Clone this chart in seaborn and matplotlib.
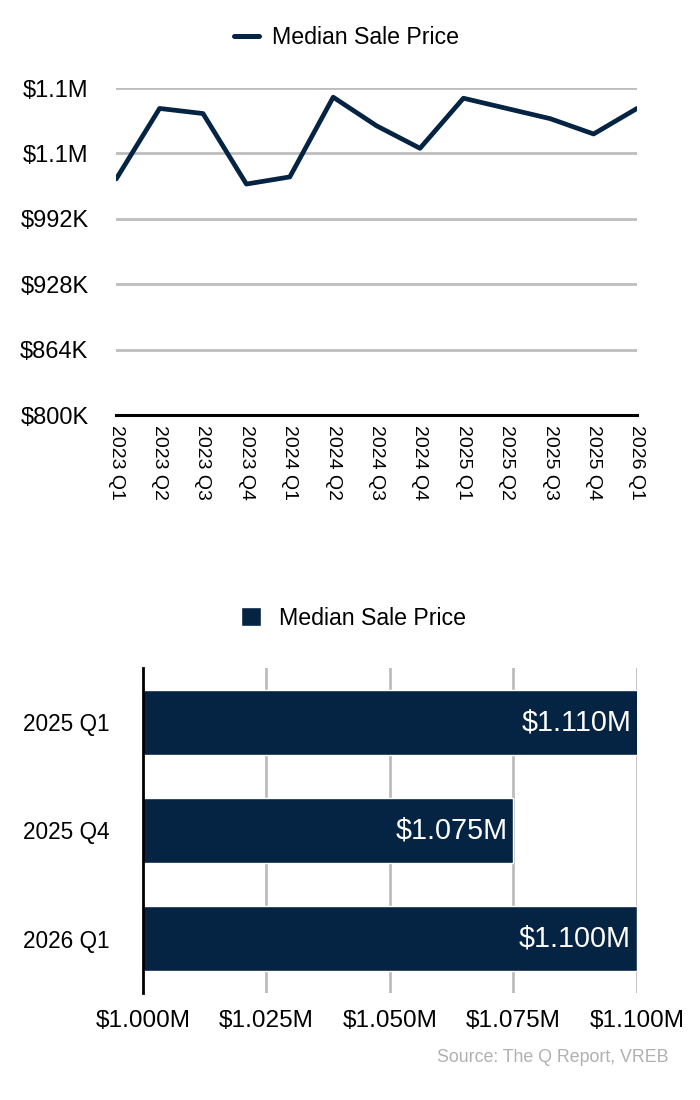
import matplotlib
matplotlib.use("Agg")
import matplotlib.pyplot as plt
import matplotlib.ticker as mticker
from matplotlib.lines import Line2D
from matplotlib.patches import Patch
import pandas as pd
import seaborn as sns

# 분기별 중간 판매가 (천 달러)
quarters = ["2023 Q1", "2023 Q2", "2023 Q3", "2023 Q4",
            "2024 Q1", "2024 Q2", "2024 Q3", "2024 Q4",
            "2025 Q1", "2025 Q2", "2025 Q3", "2025 Q4", "2026 Q1"]
median_price_k = [1031, 1100, 1095, 1026, 1033, 1111, 1083, 1061,
                  1110, 1100, 1090, 1075, 1100]
y_ticks_k = [800, 864, 928, 992, 1056, 1120]

# 비교 막대 (백만 달러)
compare_quarters = ["2025 Q1", "2025 Q4", "2026 Q1"]
compare_price_m = [1.110, 1.075, 1.100]
x_ticks_m = [1.000, 1.025, 1.050, 1.075, 1.100]

navy = "#052342"
grid_gray = "#bdbdbd"

sns.set_style("white")
plt.rcParams["font.family"] = ["Liberation Sans", "DejaVu Sans"]
plt.rcParams["text.color"] = "black"
plt.rcParams["xtick.color"] = "black"
plt.rcParams["ytick.color"] = "black"
plt.rcParams["axes.labelcolor"] = "black"

fig = plt.figure(figsize=(7, 11), dpi=100)

# ---- 선 그래프 ----
ax1 = fig.add_axes([0.166, 0.6227, 0.744, 0.2973])
df_line = pd.DataFrame({"quarter": quarters, "price": median_price_k})
sns.lineplot(data=df_line, x="quarter", y="price", ax=ax1,
             color=navy, linewidth=3.4, sort=False)
ax1.set_xlim(0, len(quarters) - 1)
ax1.set_ylim(y_ticks_k[0], y_ticks_k[-1])
ax1.set_yticks(y_ticks_k)


def fmt_k(v, pos):
    if v >= 1000:
        return "${:.1f}M".format(v / 1000)
    return "${:.0f}K".format(v)


ax1.yaxis.set_major_formatter(mticker.FuncFormatter(fmt_k))
for t in y_ticks_k[1:]:
    ax1.axhline(t, color=grid_gray, linewidth=2, zorder=0)
for s in ["top", "right", "left"]:
    ax1.spines[s].set_visible(False)
ax1.spines["bottom"].set_color("black")
ax1.spines["bottom"].set_linewidth(2.2)
ax1.tick_params(axis="x", labelsize=14, rotation=-90, length=0, pad=7)
ax1.tick_params(axis="y", labelsize=17, length=0, pad=20)
ax1.set_xlabel("")
ax1.set_ylabel("")
fig.legend(handles=[Line2D([0], [0], color=navy, linewidth=3.6)],
           labels=["Median Sale Price"], loc="center",
           bbox_to_anchor=(0.495, 0.9655), frameon=False,
           fontsize=16.7, handlelength=1.08, handletextpad=0.52)

# ---- 막대 그래프 ----
ax2 = fig.add_axes([0.204, 0.0973, 0.706, 0.2955])
df_bar = pd.DataFrame({"quarter": compare_quarters, "price": compare_price_m})
sns.barplot(data=df_bar, x="price", y="quarter", orient="h", ax=ax2,
            color=navy, width=0.6, saturation=1, zorder=2)
ax2.set_xlim(x_ticks_m[0], x_ticks_m[-1])
ax2.set_xticks(x_ticks_m)
ax2.xaxis.set_major_formatter(mticker.FuncFormatter(lambda v, p: "${:.3f}M".format(v)))
for t in x_ticks_m[1:]:
    ax2.axvline(t, color=grid_gray, linewidth=2, zorder=0)
for s in ["top", "right", "bottom"]:
    ax2.spines[s].set_visible(False)
ax2.spines["left"].set_color("black")
ax2.spines["left"].set_linewidth(2)
ax2.tick_params(axis="x", labelsize=17.6, length=0, pad=12)
ax2.tick_params(axis="y", labelsize=16.3, length=0, pad=24)
ax2.set_xlabel("")
ax2.set_ylabel("")
for i, v in enumerate(compare_price_m):
    ax2.text(min(v, x_ticks_m[-1]) - 0.0012, i, "${:.3f}M".format(v),
             ha="right", va="center", color="white", fontsize=20.7, zorder=3)
fig.legend(handles=[Patch(facecolor=navy)], labels=["Median Sale Price"],
           loc="center", bbox_to_anchor=(0.505, 0.438), frameon=False,
           fontsize=16.7, handlelength=0.86, handleheight=0.86, handletextpad=0.78)

fig.text(0.955, 0.039, "Source: The Q Report, VREB", ha="right", va="center",
         color="#b0b0b0", fontsize=12.8)

fig.savefig("out.png", dpi=100)
